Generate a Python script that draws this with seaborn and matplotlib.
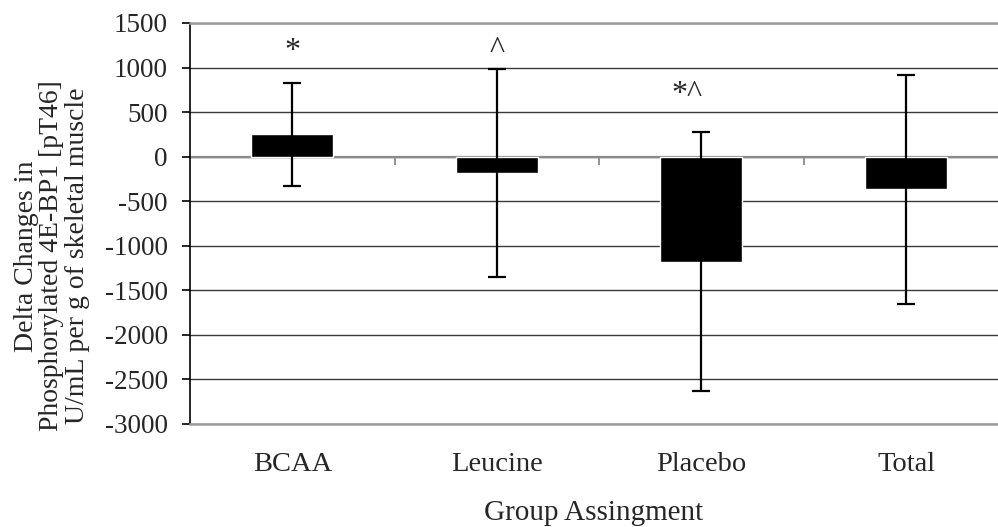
import matplotlib
matplotlib.use("Agg")
import matplotlib.pyplot as plt
import seaborn as sns
import numpy as np
import pandas as pd

groups = ["BCAA", "Leucine", "Placebo", "Total"]
means = [252, -180, -1180, -365]
sd = [580, 1165, 1455, 1285]
notes = ["*", "^", "*^", ""]
note_y = [1100, 1110, 610, 0]
note_dx = [0.0, 0.0, -0.07, 0.0]

yticks = list(range(-3000, 1501, 500))

sns.set_theme(style="white")
plt.rcParams["font.family"] = ["Liberation Serif", "DejaVu Serif"]

fig = plt.figure(figsize=(9.98, 5.27), dpi=100)
ax = fig.add_axes([190 / 998, 1 - 424 / 527, 808 / 998, (424 - 23) / 527])

df = pd.DataFrame({"group": groups, "mean": means})
sns.barplot(data=df, x="group", y="mean", color="black", width=0.4,
            saturation=1, ax=ax, zorder=3)
ax.errorbar(np.arange(len(groups)), means, yerr=sd, fmt="none",
            ecolor="black", elinewidth=1.6, capsize=6.5, capthick=1.6, zorder=4)

ax.set_ylim(-3000, 1500)
ax.set_xlim(-0.5, 3.45)
ax.set_yticks(yticks)
ax.set_yticklabels([str(v) for v in yticks], fontsize=19.5)
ax.set_xticks(range(len(groups)))
ax.set_xticklabels(groups, fontsize=20.5)
ax.tick_params(axis="x", length=0, pad=20)
ax.tick_params(axis="y", length=6, width=1.2, color="black", pad=10, left=True)

ax.yaxis.grid(True, color="#3a3a3a", linewidth=1.0, zorder=0)
ax.set_axisbelow(True)

for s in ["top", "bottom"]:
    ax.spines[s].set_color("#9a9a9a")
    ax.spines[s].set_linewidth(1.8)
ax.spines["right"].set_visible(False)
ax.spines["left"].set_color("black")
ax.spines["left"].set_linewidth(1.2)

# horizontal category axis crossing at zero, with boundary tick marks
ax.axhline(0, color="#8a8a8a", linewidth=1.6, zorder=2)
bounds = np.arange(len(groups) - 1) + 0.5
ax.vlines(bounds, -95, 0, color="#8a8a8a", linewidth=1.3, zorder=2)

for i, (t, y) in enumerate(zip(notes, note_y)):
    if t:
        ax.text(i + note_dx[i], y, t, ha="center", va="baseline", fontsize=23)

ax.set_xlabel("")
ax.set_ylabel("")
fig.text(594 / 998, 1 - 513 / 527, "Group Assingment", ha="center", va="center",
         fontsize=21)
fig.text(52 / 998, 1 - 256 / 527,
         "Delta Changes in\nPhosphorylated 4E-BP1 [pT46]\nU/mL per g of skeletal muscle",
         rotation=90, ha="center", va="center", multialignment="center",
         fontsize=20, linespacing=1.03)

fig.savefig("out.png", dpi=100)
